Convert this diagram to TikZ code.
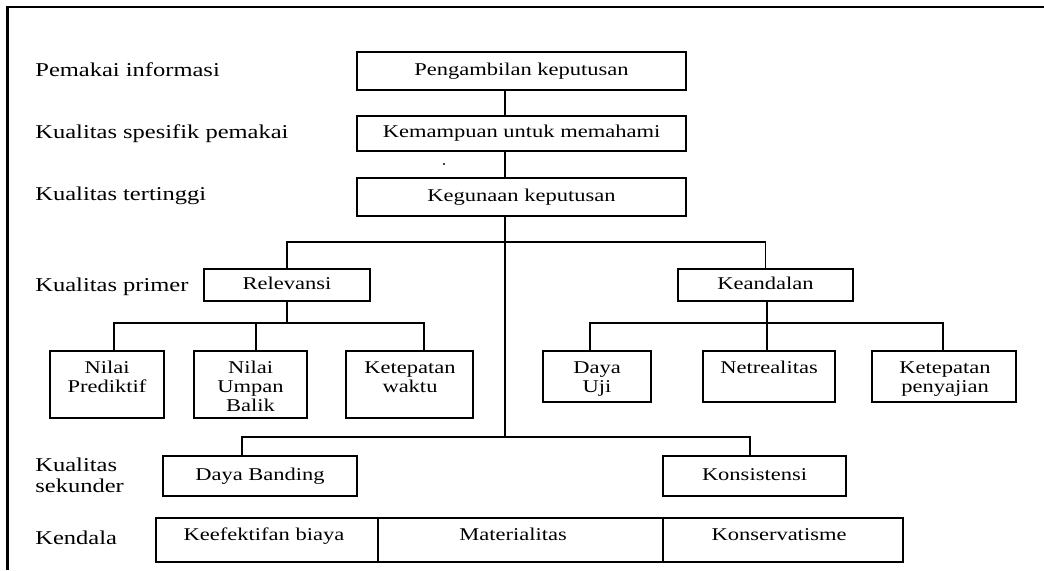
\documentclass[tikz,border=0pt]{standalone}
\usepackage{fontspec}
\setmainfont{Liberation Serif}[FakeStretch=1.25]
\newcommand\diagboxfont{\fontsize{9}{9.5}\selectfont}
\newcommand\diaglvlfont{\fontsize{9.8}{10.5}\selectfont}
\begin{document}
\begin{tikzpicture}[x=0.5pt,y=-0.5pt,
  box/.style={draw, line width=0.7pt, inner sep=0pt, font=\diagboxfont,
              text height=6.2pt, text depth=2pt},
  boxtext/.style={inner sep=0pt, font=\diagboxfont, align=center, anchor=base},
  level/.style={inner sep=0pt, font=\diaglvlfont, align=left, anchor=base west},
  link/.style={line width=0.6pt},
  frame/.style={line width=1.1pt}]
\useasboundingbox (0,0) rectangle (1044,570);

% outer frame (top and left edges)
\coordinate (fTL) at (7.5,7);
\coordinate (fTR) at (1044,7);
\coordinate (fBL) at (7.5,570);
\draw[frame] (fBL) -- (fTL) -- (fTR);

% level captions (base anchor sits on the last line)
\node[level] (l1) at (35,76)  {Pemakai informasi};
\node[level] (l2) at (35,138) {Kualitas spesifik pemakai};
\node[level] (l3) at (35,200) {Kualitas tertinggi};
\node[level] (l4) at (35,291) {Kualitas primer};
\node[level] (l5) at (35,492) {Kualitas\\sekunder};
\node[level] (l6) at (35,544) {Kendala};

% top column
\node[box, minimum width=164.5pt, minimum height=19pt]   (p1) at (521.5,71)    {Pengambilan keputusan};
\node[box, minimum width=164.5pt, minimum height=17.5pt] (p2) at (521.5,133.5) {Kemampuan untuk memahami};
\node[box, minimum width=164.5pt, minimum height=19pt]   (p3) at (521.5,197)   {Kegunaan keputusan};
\fill (444,164) circle[radius=1.2];

% primary qualities
\node[box, minimum width=83pt,   minimum height=16pt] (rel) at (287,285)   {Relevansi};
\node[box, minimum width=87.5pt, minimum height=16pt] (kea) at (765.5,285) {Keandalan};

% components of relevance
\node[box, minimum width=57pt,   minimum height=33.5pt] (np)  at (107,384.5)   {};
\node[box, minimum width=56.5pt, minimum height=33.5pt] (nub) at (250.5,384.5) {};
\node[box, minimum width=63.5pt, minimum height=33.5pt] (kw)  at (409.5,384.5) {};
\node[boxtext] (npt)  at (107,392)   {Nilai\\Prediktif};
\node[boxtext] (nubt) at (250.5,411) {Nilai\\Umpan\\Balik};
\node[boxtext] (kwt)  at (410,392)   {Ketepatan\\waktu};

% components of reliability
\node[box, minimum width=54pt, minimum height=25.5pt] (du)  at (597,376.5) {};
\node[box, minimum width=66pt, minimum height=25.5pt] (net) at (769,376.5) {};
\node[box, minimum width=72pt, minimum height=25.5pt] (kp)  at (944,376.5) {};
\node[boxtext] (dut)  at (597,392) {Daya\\Uji};
\node[boxtext] (nett) at (769,373) {Netrealitas};
\node[boxtext] (kpt)  at (945,392) {Ketepatan\\penyajian};

% secondary qualities
\node[box, minimum width=97pt,   minimum height=20pt] (db)  at (260,476)   {Daya Banding};
\node[box, minimum width=91.5pt, minimum height=20pt] (kon) at (754.5,476) {Konsistensi};

% constraints
\node[box, minimum width=111pt,   minimum height=22pt] (k1) at (267,540)   {};
\node[box, minimum width=142.5pt, minimum height=22pt] (k2) at (520.5,540) {};
\node[box, minimum width=120pt,   minimum height=22pt] (k3) at (783,540)   {};
\node[boxtext] (k1t) at (264,540) {Keefektifan biaya};
\node[boxtext] (k2t) at (513,540) {Materialitas};
\node[boxtext] (k3t) at (779,540) {Konservatisme};

% connectors
\coordinate (spine) at (505,0);
\coordinate (j1) at (505,242);
\coordinate (j2) at (505,437);
\draw[link] (p1.south -| spine) -- (p2.north -| spine);
\draw[link] (p2.south -| spine) -- (p3.north -| spine);
\draw[link] (p3.south -| spine) -- (j2);
\draw[link] (rel.north) |- (j1) -| (kea.north);

\coordinate (ra) at (114,323);
\coordinate (rb) at (256,323);
\coordinate (rc) at (424,323);
\draw[link] (rel.south) -- (rel.south |- rb);
\draw[link] (np.north -| ra) -- (ra) -- (rc) -- (kw.north -| rc);
\draw[link] (rb) -- (nub.north -| rb);

\coordinate (ka) at (590,323);
\coordinate (kb) at (767,323);
\coordinate (kc) at (943,323);
\draw[link] (du.north -| ka) -- (ka) -- (kc) -- (kp.north -| kc);
\draw[link] (kea.south -| kb) -- (net.north -| kb);

\coordinate (sa) at (242,437);
\coordinate (sb) at (750,437);
\draw[link] (db.north -| sa) -- (sa) -- (sb) -- (kon.north -| sb);
\end{tikzpicture}
\end{document}
